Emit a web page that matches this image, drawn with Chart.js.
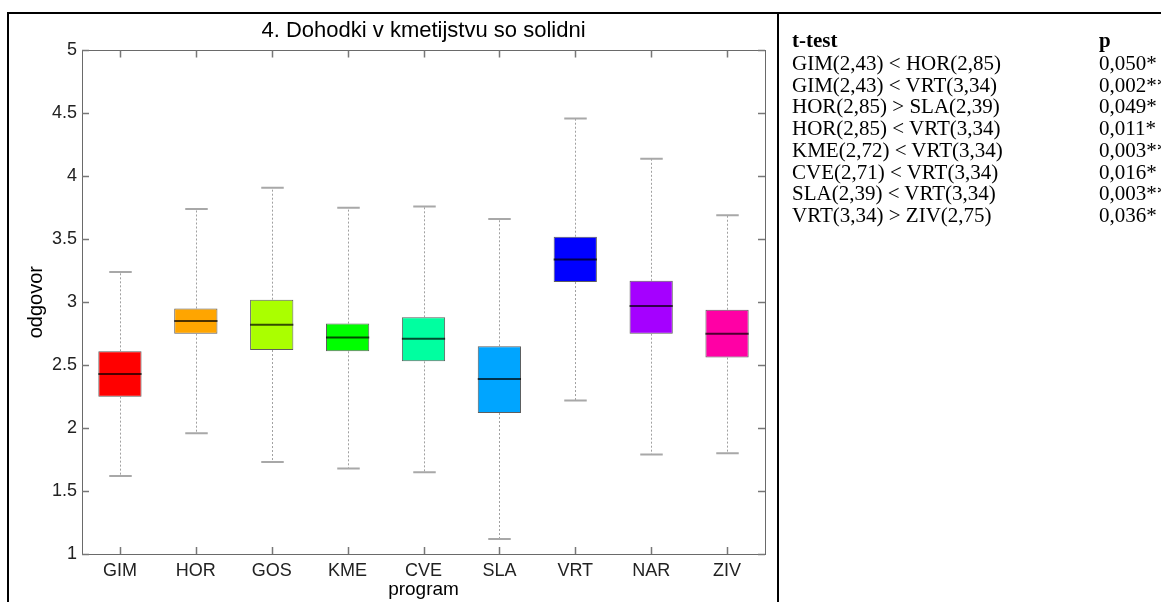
<!DOCTYPE html>
<html><head><meta charset="utf-8">
<script src="https://cdn.jsdelivr.net/npm/chart.js@4.4.1/dist/chart.umd.min.js"></script>
<style>
html,body{margin:0;padding:0;background:#fff;width:1161px;height:602px;overflow:hidden}
#wrap{position:relative;width:1161px;height:602px;overflow:hidden}
canvas{position:absolute;left:0;top:0}
.line{position:absolute;background:#000}
.cell{position:absolute;white-space:nowrap;font-family:"Liberation Serif","Times New Roman",serif;font-size:21px;color:#000;line-height:22px}
.hdr{font-weight:bold}
</style></head>
<body>
<div id="wrap">
<canvas id="c" width="837" height="602"></canvas>
<div id="tbl"></div>
<div class="line" style="left:7px;top:12px;width:2px;height:590px"></div>
<div class="line" style="left:7px;top:12px;width:1154px;height:2px"></div>
<div class="line" style="left:777px;top:12px;width:2px;height:590px"></div>
</div>
<script>
const categories = ['GIM','HOR','GOS','KME','CVE','SLA','VRT','NAR','ZIV'];
const whiskerLow  = [1.62, 1.96, 1.73, 1.68, 1.65, 1.12, 2.22, 1.79, 1.80];
const q1          = [2.25, 2.75, 2.62, 2.61, 2.53, 2.12, 3.16, 2.75, 2.56];
const median      = [2.43, 2.85, 2.82, 2.72, 2.71, 2.39, 3.34, 2.97, 2.75];
const q3          = [2.61, 2.95, 3.02, 2.83, 2.88, 2.65, 3.52, 3.17, 2.94];
const whiskerHigh = [3.24, 3.74, 3.91, 3.75, 3.76, 3.66, 4.46, 4.14, 3.69];
const yTicks      = [1, 1.5, 2, 2.5, 3, 3.5, 4, 4.5, 5];
const yTickLabels = ['1','1.5','2','2.5','3','3.5','4','4.5','5'];
const titleText = '4. Dohodki v kmetijstvu so solidni';
const xTitle = 'program';
const yTitle = 'odgovor';
const tableHeader = ['t-test','p'];
const testLabels = ['GIM(2,43) < HOR(2,85)','GIM(2,43) < VRT(3,34)','HOR(2,85) > SLA(2,39)','HOR(2,85) < VRT(3,34)','KME(2,72) < VRT(3,34)','CVE(2,71) < VRT(3,34)','SLA(2,39) < VRT(3,34)','VRT(3,34) > ZIV(2,75)'];
const pValues = ['0,050*','0,002**','0,049*','0,011*','0,003**','0,016*','0,003**','0,036*'];

const palette = ['#ff0000','#ffa500','#aaff00','#00ff00','#00ffa0','#00a5ff','#0000ff','#a500ff','#ff00a5'];
const SANS = '"Liberation Sans", Arial, sans-serif';

// table
const tbl = document.getElementById('tbl');
function addCell(text, left, top, bold){
  const d = document.createElement('div');
  d.className = 'cell' + (bold ? ' hdr' : '');
  d.style.left = left + 'px'; d.style.top = top + 'px';
  d.textContent = text; tbl.appendChild(d);
}
const col1 = 792, col2 = 1099;
addCell(tableHeader[0], col1, 29, true);
addCell(tableHeader[1], col2, 29, true);
testLabels.forEach((t,i)=>{ addCell(t, col1, 52 + i*21.7); addCell(pValues[i], col2, 52 + i*21.7); });

const extras = {
  id: 'extras',
  afterDatasetsDraw(chart){
    const {ctx, scales:{y}} = chart;
    const meta = chart.getDatasetMeta(0);
    ctx.save();
    meta.data.forEach((bar,i)=>{
      const cx = Math.round(bar.x) + 0.5;
      const w = bar.width;
      const yq3 = y.getPixelForValue(q3[i]), yhi = y.getPixelForValue(whiskerHigh[i]);
      const yq1 = y.getPixelForValue(q1[i]), ylo = y.getPixelForValue(whiskerLow[i]);
      ctx.strokeStyle = '#a0a0a0'; ctx.lineWidth = 1; ctx.setLineDash([2,2]);
      ctx.beginPath();
      ctx.moveTo(cx, yq3); ctx.lineTo(cx, yhi);
      ctx.moveTo(cx, yq1); ctx.lineTo(cx, ylo);
      ctx.stroke();
      ctx.setLineDash([]);
      ctx.strokeStyle = '#a8a8a8'; ctx.lineWidth = 2;
      const cw = w * 0.26;
      ctx.beginPath();
      ctx.moveTo(cx - cw, yhi); ctx.lineTo(cx + cw, yhi);
      ctx.moveTo(cx - cw, ylo); ctx.lineTo(cx + cw, ylo);
      ctx.stroke();
      const ym = y.getPixelForValue(median[i]);
      ctx.strokeStyle = 'rgba(0,0,0,0.7)'; ctx.lineWidth = 2;
      ctx.beginPath();
      ctx.moveTo(bar.x - w/2, ym); ctx.lineTo(bar.x + w/2, ym);
      ctx.stroke();
    });
    ctx.restore();
  },
  afterDraw(chart){
    const {ctx, chartArea:a, scales:{x,y}} = chart;
    ctx.save();
    ctx.strokeStyle = '#6a6a6a'; ctx.lineWidth = 1;
    ctx.strokeRect(Math.round(a.left)+0.5, Math.round(a.top)+0.5, Math.round(a.right-a.left), Math.round(a.bottom-a.top));
    ctx.strokeStyle = '#777'; ctx.lineWidth = 1.5;
    const tl = 7;
    ctx.beginPath();
    yTicks.forEach(v=>{
      const py = Math.round(y.getPixelForValue(v)) + 0.5;
      ctx.moveTo(a.left, py); ctx.lineTo(a.left + tl, py);
      ctx.moveTo(a.right, py); ctx.lineTo(a.right - tl, py);
    });
    categories.forEach((c,i)=>{
      const px = Math.round(x.getPixelForValue(i)) + 0.5;
      ctx.moveTo(px, a.bottom); ctx.lineTo(px, a.bottom - tl);
      ctx.moveTo(px, a.top); ctx.lineTo(px, a.top + tl);
    });
    ctx.stroke();
    ctx.restore();
  }
};

const boxData = categories.map((c,i)=>[q1[i], q3[i]]);

new Chart(document.getElementById('c'), {
  type: 'bar',
  data: {
    labels: categories,
    datasets: [{
      data: boxData,
      backgroundColor: palette,
      borderColor: 'rgba(40,40,40,0.75)',
      borderWidth: 1,
      borderSkipped: false,
      categoryPercentage: 1,
      barPercentage: 0.57
    }]
  },
  options: {
    responsive: false,
    animation: false,
    devicePixelRatio: 1,
    layout: { padding: { left: 10, right: 0, top: 15, bottom: 0 } },
    plugins: {
      legend: { display: false },
      tooltip: { enabled: false },
      title: {
        display: true, text: titleText, color: '#000',
        font: { family: SANS, size: 22, weight: 'normal' },
        padding: { top: 3, bottom: 6 }
      }
    },
    scales: {
      x: {
        grid: { display: false, drawTicks: false },
        border: { display: false },
        ticks: { color: '#222', padding: 6, font: { family: SANS, size: 18 } },
        title: { display: true, text: xTitle, color: '#000', padding: { top: 0, bottom: 1 },
          font: { family: SANS, size: 19 } },
        afterFit(s){ s.height = 48; }
      },
      y: {
        min: 1, max: 5,
        afterBuildTicks(s){ s.ticks = yTicks.map(v=>({value:v})); },
        grid: { display: false, drawTicks: false },
        border: { display: false },
        ticks: { color: '#222', padding: 5, font: { family: SANS, size: 18 },
          callback(v, i){ return yTickLabels[i]; } },
        title: { display: true, text: yTitle, color: '#000', padding: { top: 14, bottom: 0 },
          font: { family: SANS, size: 20 } },
        afterFit(s){ s.width = 72; }
      },
      yRight: {
        position: 'right', min: 1, max: 5,
        grid: { display: false, drawTicks: false },
        border: { display: false },
        ticks: { display: false },
        afterFit(s){ s.width = 72; }
      }
    }
  },
  plugins: [extras]
});
</script>
</body></html>
